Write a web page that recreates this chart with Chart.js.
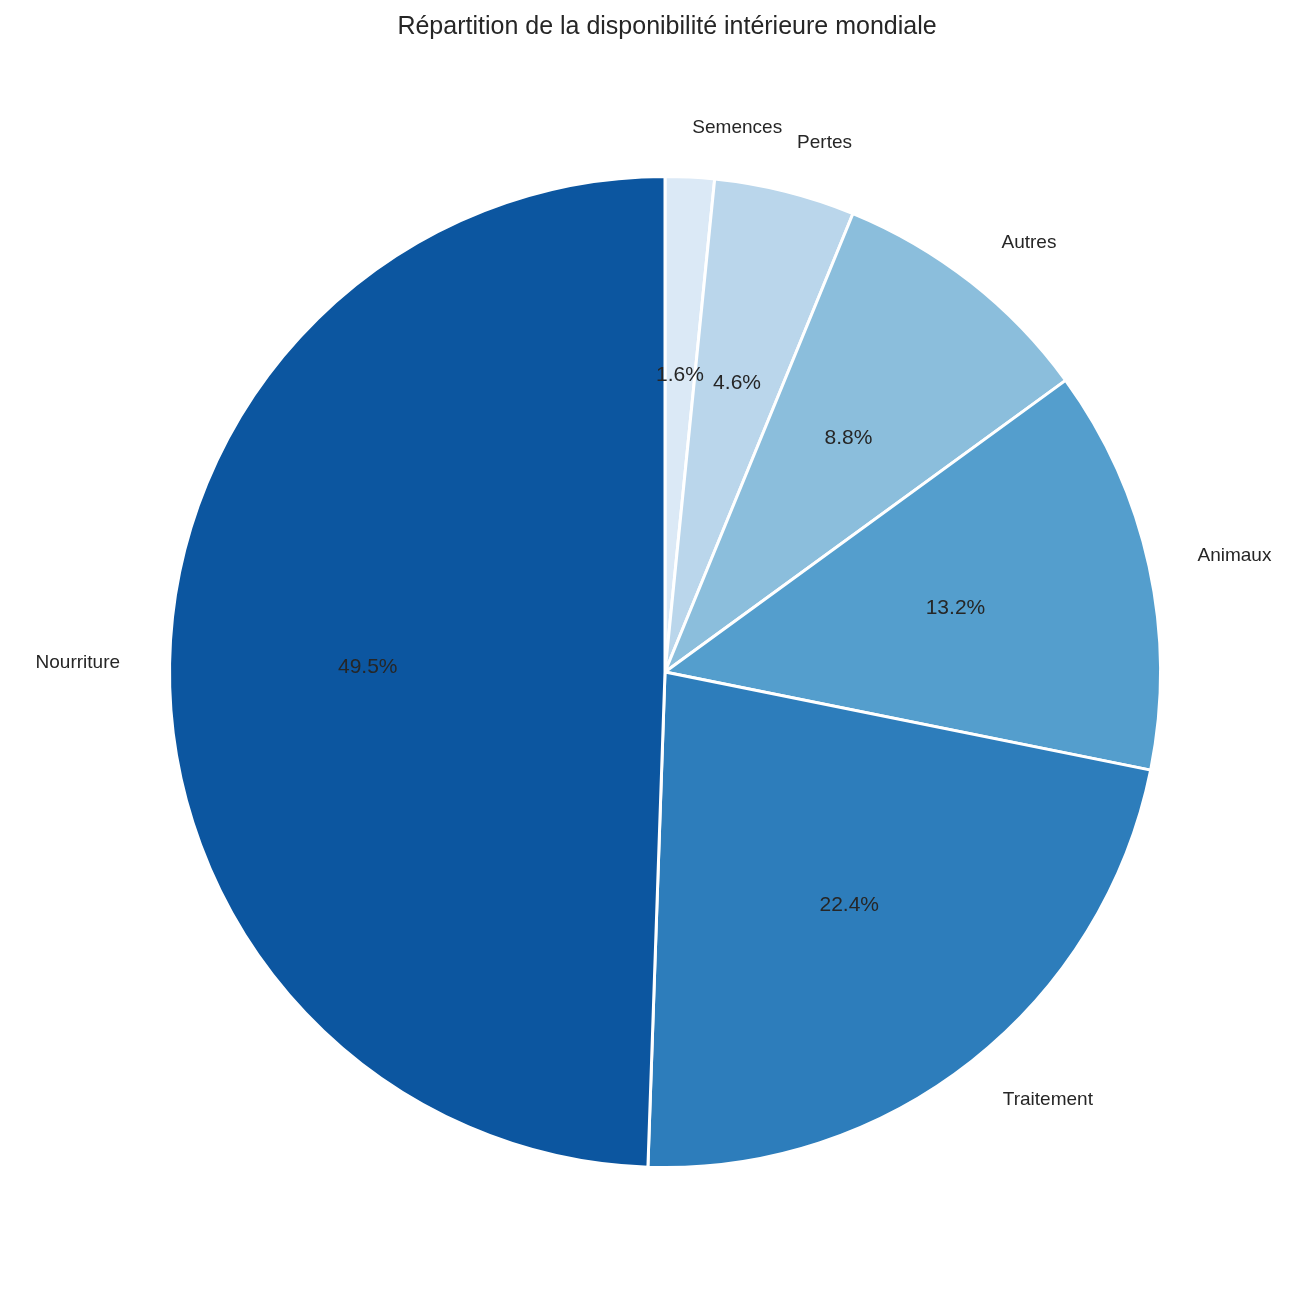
<!DOCTYPE html>
<html>
<head>
<meta charset="utf-8">
<script src="https://cdn.jsdelivr.net/npm/chart.js@4"></script>
<style>
  html, body { margin: 0; padding: 0; background: #fff; }
  #wrap { width: 1306px; height: 1311px; }
</style>
</head>
<body>
<div id="wrap"><canvas id="pie"></canvas></div>
<script>
// Clockwise from the top (matplotlib drew them counter-clockwise)
const categories = ['Semences', 'Pertes', 'Autres', 'Animaux', 'Traitement', 'Nourriture'];
const shares = [1.6, 4.6, 8.8, 13.2, 22.4, 49.5];
const colors = ['#dbe9f6', '#bad6eb', '#8bbedc', '#549ecd', '#2d7dbb', '#0c56a0'];
const chartTitle = 'Répartition de la disponibilité intérieure mondiale';

const FONT = '"Liberation Sans", Arial, sans-serif';

// Draws the title, outside labels and percentages
const pieText = {
    id: 'pieText',
    afterDraw(chart) {
        const ctx = chart.ctx;
        ctx.save();
        ctx.fillStyle = '#262626';
        ctx.font = '25px ' + FONT;
        ctx.textAlign = 'center';
        ctx.textBaseline = 'middle';
        ctx.fillText(chartTitle, chart.width / 2 + 14, 27);

        chart.getDatasetMeta(0).data.forEach((arc, i) => {
            const mid = (arc.startAngle + arc.endAngle) / 2;
            const r = arc.outerRadius;
            const cos = Math.cos(mid), sin = Math.sin(mid);

            ctx.font = '19px ' + FONT;
            ctx.textAlign = cos >= 0 ? 'left' : 'right';
            ctx.fillText(categories[i], arc.x + cos * r * 1.1, arc.y + sin * r * 1.1);

            ctx.font = '21px ' + FONT;
            ctx.textAlign = 'center';
            ctx.fillText(shares[i].toFixed(1) + '%', arc.x + cos * r * 0.6, arc.y + sin * r * 0.6);
        });
        ctx.restore();
    }
};

new Chart(document.getElementById('pie'), {
    type: 'pie',
    data: {
        labels: categories,
        datasets: [{
            data: shares,
            backgroundColor: colors,
            borderColor: '#ffffff',
            borderWidth: 3
        }]
    },
    options: {
        responsive: true,
        maintainAspectRatio: false,
        animation: false,
        rotation: 0,
        layout: { padding: { left: 168, right: 144, top: 175, bottom: 142 } },
        plugins: {
            legend: { display: false },
            tooltip: { enabled: false },
            title: { display: false }
        }
    },
    plugins: [pieText]
});
</script>
</body>
</html>
